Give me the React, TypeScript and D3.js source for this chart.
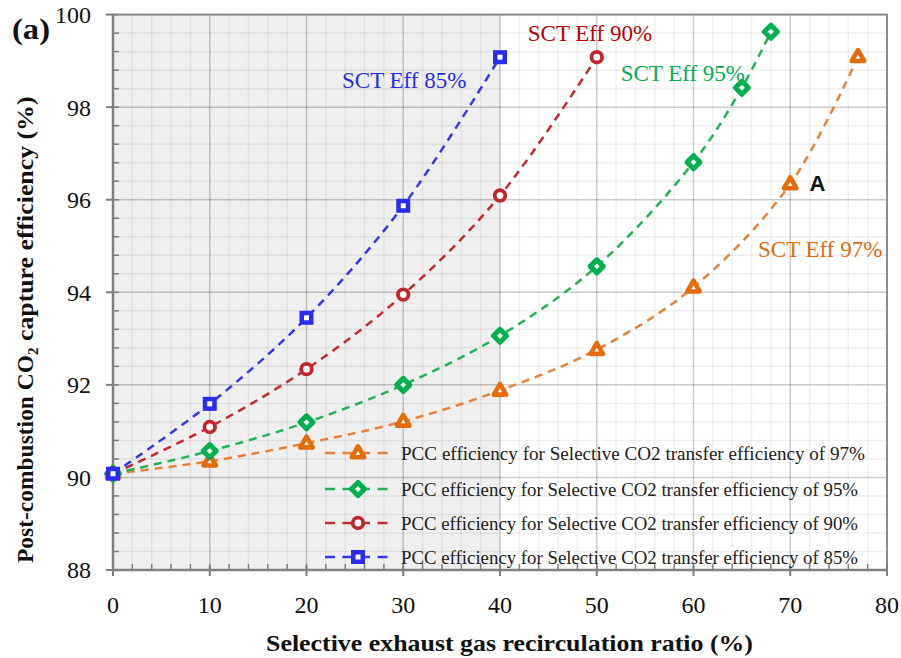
import React from "react";
import * as d3 from "d3";

const x85 = [0, 10, 20, 30, 40];
const y85 = [90.08, 91.59, 93.45, 95.87, 99.08];
const x90 = [0, 10, 20, 30, 40, 50];
const y90 = [90.08, 91.09, 92.34, 93.95, 96.09, 99.08];
const x95 = [0, 10, 20, 30, 40, 50, 60, 65, 68];
const y95 = [90.08, 90.57, 91.19, 92.0, 93.06, 94.56, 96.81, 98.42, 99.63];
const x97 = [0, 10, 20, 30, 40, 50, 60, 70, 77];
const y97 = [90.08, 90.35, 90.74, 91.21, 91.88, 92.76, 94.11, 96.34, 99.09];

const xTicks = [0, 10, 20, 30, 40, 50, 60, 70, 80];
const yTicks = [88, 90, 92, 94, 96, 98, 100];

const legendLabels = [
  "PCC efficiency for Selective CO2 transfer efficiency  of 97%",
  "PCC efficiency for Selective CO2 transfer efficiency of 95%",
  "PCC efficiency for Selective CO2 transfer efficiency of 90%",
  "PCC efficiency for Selective CO2 transfer efficiency of 85%",
];

const annotations = [
  { text: "SCT Eff 85%", x: 30.1, y: 98.59, color: "#2a2af0" },
  { text: "SCT Eff 90%", x: 49.3, y: 99.6, color: "#c00000" },
  { text: "SCT Eff 95%", x: 58.9, y: 98.74, color: "#00b050" },
  { text: "SCT Eff 97%", x: 73.1, y: 94.94, color: "#e46c0a" },
];

const W = 901;
const H = 658;
const L = 113, R = 887, T = 14.6, B = 570;

const serif = "'Liberation Serif', 'Times New Roman', serif";

type Series = { xs: number[]; ys: number[]; color: string; line: string; marker: string };

const series: Series[] = [
  { xs: x97, ys: y97, color: "#e46c0a", line: "#e8823a", marker: "triangle" },
  { xs: x95, ys: y95, color: "#00b050", line: "#22b35a", marker: "diamond" },
  { xs: x90, ys: y90, color: "#c0262d", line: "#c8282e", marker: "circle" },
  { xs: x85, ys: y85, color: "#2a2af5", line: "#3535f5", marker: "square" },
];

function Marker({ kind, cx, cy, color }: { kind: string; cx: number; cy: number; color: string }) {
  if (kind === "square")
    return <rect x={cx - 4.75} y={cy - 4.75} width={9.5} height={9.5} fill="white" stroke={color} strokeWidth={4.5} />;
  if (kind === "circle")
    return <circle cx={cx} cy={cy} r={5.3} fill="white" stroke={color} strokeWidth={3.8} />;
  if (kind === "diamond") {
    const s = 6.5;
    return (
      <path
        d={`M${cx},${cy - s}L${cx + s},${cy}L${cx},${cy + s}L${cx - s},${cy}Z`}
        fill="white"
        stroke={color}
        strokeWidth={5}
        strokeLinejoin="round"
      />
    );
  }
  const s = 6.5;
  return (
    <path
      d={`M${cx},${cy - s}L${cx + s * 0.95},${cy + s * 0.65}L${cx - s * 0.95},${cy + s * 0.65}Z`}
      fill="white"
      stroke={color}
      strokeWidth={4.6}
      strokeLinejoin="round"
    />
  );
}

export default function App() {
  const x = d3.scaleLinear().domain([0, 80]).range([L, R]);
  const y = d3.scaleLinear().domain([88, 100]).range([B, T]);
  const minorX = d3.range(0, 80.01, 2);
  const minorY = d3.range(88, 100.01, 0.4);

  const line = d3
    .line<[number, number]>()
    .x((d) => x(d[0]))
    .y((d) => y(d[1]))
    .curve(d3.curveCatmullRom.alpha(0.5));

  const legendY = [453, 489, 523, 557];

  return (
    <svg width={W} height={H} style={{ position: "absolute", left: 0, top: 0, background: "white" }}>
      <rect x={0} y={0} width={W} height={H} fill="white" />
      <rect x={x(0)} y={T} width={x(40) - x(0)} height={B - T} fill="#efefef" />
      {minorX.map((v) => (
        <line key={"mx" + v} x1={x(v)} x2={x(v)} y1={T} y2={B} stroke="#000" strokeOpacity={0.06} strokeWidth={1.5} />
      ))}
      {minorY.map((v, i) => (
        <line key={"my" + i} x1={L} x2={R} y1={y(v)} y2={y(v)} stroke="#000" strokeOpacity={0.06} strokeWidth={1.5} />
      ))}
      {xTicks.map((v) => (
        <line key={"gx" + v} x1={x(v)} x2={x(v)} y1={T} y2={B} stroke="#000" strokeOpacity={0.15} strokeWidth={1.5} />
      ))}
      {yTicks.map((v) => (
        <line key={"gy" + v} x1={L} x2={R} y1={y(v)} y2={y(v)} stroke="#000" strokeOpacity={0.15} strokeWidth={1.5} />
      ))}
      {/* frame */}
      <rect x={L} y={T} width={R - L} height={B - T} fill="none" stroke="#8c8c8c" strokeWidth={2} />
      <line x1={L} x2={L} y1={T} y2={B} stroke="#7f7f7f" strokeWidth={2.5} />
      <line x1={L} x2={R} y1={B} y2={B} stroke="#7f7f7f" strokeWidth={2.5} />
      {/* minor ticks */}
      {minorY.map((v, i) => (
        <line key={"ty" + i} x1={L} x2={L + 6} y1={y(v)} y2={y(v)} stroke="#7f7f7f" strokeWidth={1.5} />
      ))}
      {minorX.map((v) => (
        <line key={"tx" + v} x1={x(v)} x2={x(v)} y1={B} y2={B - 6} stroke="#7f7f7f" strokeWidth={1.5} />
      ))}
      {yTicks.map((v) => (
        <line key={"Ty" + v} x1={L - 7} x2={L} y1={y(v)} y2={y(v)} stroke="#7f7f7f" strokeWidth={2} />
      ))}
      {xTicks.map((v) => (
        <line key={"Tx" + v} x1={x(v)} x2={x(v)} y1={B - 4} y2={B + 6} stroke="#7f7f7f" strokeWidth={2} />
      ))}
      {/* tick labels */}
      {yTicks.map((v) => (
        <text key={"ly" + v} x={91} y={y(v)} dy="0.35em" textAnchor="end" fontFamily={serif} fontSize={24} fill="#111">
          {v}
        </text>
      ))}
      {xTicks.map((v) => (
        <text key={"lx" + v} x={x(v)} y={613} textAnchor="middle" fontFamily={serif} fontSize={24} fill="#111">
          {v}
        </text>
      ))}
      {/* series */}
      {series.map((s, i) => {
        const pts = s.xs.map((v, j) => [v, s.ys[j]] as [number, number]);
        return (
          <g key={"s" + i}>
            <path d={line(pts) || ""} fill="none" stroke={s.line} strokeWidth={2.5} strokeDasharray="8 6" />
          </g>
        );
      })}
      {series.map((s, i) => (
        <g key={"m" + i}>
          {s.xs.map((v, j) => (
            <Marker key={j} kind={s.marker} cx={x(v)} cy={y(s.ys[j])} color={s.color} />
          ))}
        </g>
      ))}
      {/* annotations */}
      {annotations.map((a) => (
        <text key={a.text} x={x(a.x)} y={y(a.y)} dy="0.35em" textAnchor="middle" fontFamily={serif} fontSize={23} fill={a.color}>
          {a.text}
        </text>
      ))}
      <text x={x(72.8)} y={y(96.36)} dy="0.36em" textAnchor="middle" fontFamily="'Liberation Sans', Arial, sans-serif" fontWeight="bold" fontSize={22} fill="#111">
        A
      </text>
      {/* legend */}
      {series.map((s, i) => (
        <g key={"lg" + i}>
          <line x1={325} x2={390} y1={legendY[i]} y2={legendY[i]} stroke={s.line} strokeWidth={2.5} strokeDasharray="10 7.5" />
          <Marker kind={s.marker} cx={358} cy={legendY[i]} color={s.color} />
          <text x={401} y={legendY[i]} dy="0.35em" fontFamily={serif} fontSize={19} fill="#222"
            textLength={i === 0 ? 464 : 457} lengthAdjust="spacingAndGlyphs">
            {legendLabels[i]}
          </text>
        </g>
      ))}
      {/* titles */}
      <text x={12} y={39} fontFamily={serif} fontWeight="bold" fontSize={30} fill="#111" textLength={38} lengthAdjust="spacingAndGlyphs">
        (a)
      </text>
      <text x={266} y={651} fontFamily={serif} fontWeight="bold" fontSize={23} fill="#111" textLength={487} lengthAdjust="spacingAndGlyphs">
        Selective exhaust gas recirculation ratio (%)
      </text>
      <text transform={`translate(33,563) rotate(-90)`} fontFamily={serif} fontWeight="bold" fontSize={23} fill="#111">
        <tspan textLength={208} lengthAdjust="spacingAndGlyphs">Post-combustion CO</tspan>
        <tspan fontSize={15} dy={5}>2</tspan>
        <tspan dy={-5} textLength={251} lengthAdjust="spacingAndGlyphs"> capture efficiency  (%)</tspan>
      </text>
    </svg>
  );
}
